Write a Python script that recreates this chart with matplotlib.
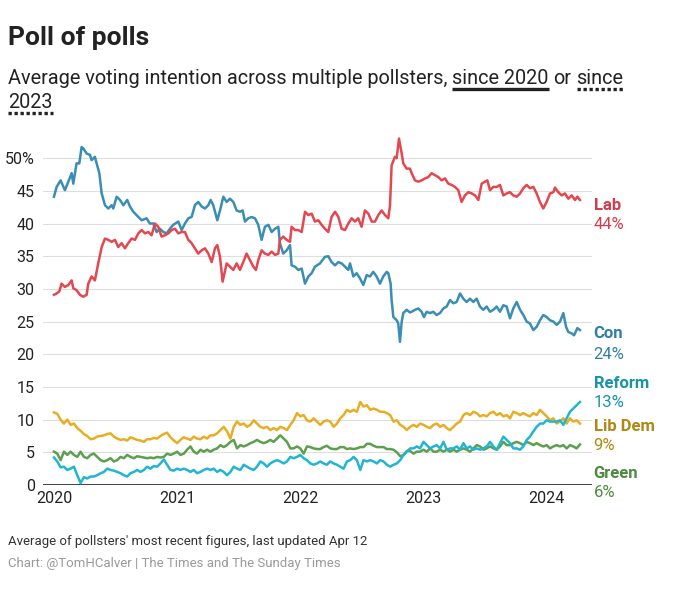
import matplotlib
matplotlib.use("Agg")
import matplotlib.pyplot as plt
from matplotlib.lines import Line2D
import numpy as np

plt.rcParams["font.family"] = ["Roboto", "DejaVu Sans"]

# ---- data (decimal years, % voting intention) ----
con_t = [2020.000, 2020.022, 2020.054, 2020.089, 2020.117, 2020.144, 2020.157, 2020.184, 2020.206, 2020.225,
         2020.238, 2020.266, 2020.293, 2020.306, 2020.333, 2020.347, 2020.369, 2020.388, 2020.415, 2020.442,
         2020.469, 2020.482, 2020.510, 2020.537, 2020.564, 2020.596, 2020.618, 2020.645, 2020.686, 2020.713,
         2020.753, 2020.780, 2020.808, 2020.835, 2020.862, 2020.889, 2020.916, 2020.943, 2020.970, 2021.011,
         2021.038, 2021.065, 2021.092, 2021.119, 2021.146, 2021.173, 2021.201, 2021.228, 2021.255, 2021.274,
         2021.295, 2021.328, 2021.350, 2021.377, 2021.404, 2021.431, 2021.458, 2021.485, 2021.512, 2021.534,
         2021.553, 2021.580, 2021.607, 2021.634, 2021.661, 2021.688, 2021.715, 2021.743, 2021.770, 2021.797,
         2021.824, 2021.837, 2021.864, 2021.892, 2021.919, 2021.932, 2021.959, 2021.986, 2022.014, 2022.041,
         2022.068, 2022.095, 2022.122, 2022.163, 2022.203, 2022.230, 2022.257, 2022.285, 2022.312, 2022.339,
         2022.366, 2022.393, 2022.407, 2022.434, 2022.461, 2022.488, 2022.515, 2022.542, 2022.569, 2022.596,
         2022.623, 2022.650, 2022.677, 2022.705, 2022.718, 2022.737, 2022.745, 2022.759, 2022.786, 2022.799,
         2022.813, 2022.827, 2022.840, 2022.867, 2022.894, 2022.908, 2022.935, 2022.962, 2022.989, 2023.008,
         2023.030, 2023.057, 2023.084, 2023.111, 2023.138, 2023.165, 2023.192, 2023.220, 2023.247, 2023.274,
         2023.301, 2023.328, 2023.355, 2023.382, 2023.409, 2023.436, 2023.463, 2023.490, 2023.518, 2023.545,
         2023.572, 2023.599, 2023.626, 2023.653, 2023.680, 2023.707, 2023.734, 2023.762, 2023.789, 2023.816,
         2023.843, 2023.870, 2023.897, 2023.924, 2023.951, 2023.978, 2024.005, 2024.033, 2024.060, 2024.087,
         2024.114, 2024.141, 2024.163, 2024.182, 2024.209, 2024.228, 2024.255, 2024.276]
con_v = [44.1, 45.6, 46.6, 45.1, 46.4, 47.7, 46.1, 49.2, 49.2, 51.7,
         51.5, 50.7, 50.5, 49.7, 50.2, 49.2, 47.7, 44.6, 42.8, 42.3,
         42.8, 42.3, 44.1, 43.6, 42.8, 43.6, 42.6, 41.8, 41.0, 40.5,
         40.8, 40.0, 40.0, 38.7, 39.2, 38.7, 38.5, 39.2, 39.8, 40.3,
         39.0, 40.0, 40.8, 41.0, 42.8, 43.3, 42.6, 42.3, 42.8, 43.6,
         42.8, 40.5, 42.0, 44.1, 43.3, 43.8, 43.3, 42.0, 41.8, 42.0,
         40.3, 40.8, 41.0, 40.8, 39.8, 37.5, 39.5, 39.8, 38.7, 39.2,
         39.5, 37.0, 35.4, 35.9, 36.7, 33.6, 33.4, 32.9, 33.1, 30.8,
         31.9, 32.4, 33.4, 33.9, 34.9, 35.0, 34.1, 33.6, 34.1, 33.9,
         33.4, 32.9, 33.9, 31.9, 32.4, 31.6, 30.6, 32.1, 31.9, 32.6,
         31.9, 30.8, 31.9, 32.6, 32.4, 30.8, 28.3, 25.7, 25.2, 24.7,
         21.9, 25.0, 26.3, 26.8, 26.4, 26.5, 26.8, 27.0, 26.5, 25.7,
         26.5, 26.3, 26.5, 26.0, 26.3, 27.0, 27.3, 28.3, 27.8, 28.0,
         29.3, 28.5, 28.0, 28.5, 28.0, 28.5, 27.3, 26.8, 27.3, 26.5,
         26.8, 27.3, 26.5, 27.5, 27.3, 25.5, 27.0, 28.0, 26.8, 26.0,
         25.0, 24.7, 23.7, 24.2, 25.2, 26.0, 25.7, 25.2, 25.0, 24.5,
         25.0, 26.3, 24.2, 23.4, 23.2, 22.9, 24.0, 23.7]

lab_t = [2020.000, 2020.022, 2020.043, 2020.062, 2020.089, 2020.117, 2020.144, 2020.157, 2020.184, 2020.211,
         2020.238, 2020.266, 2020.279, 2020.306, 2020.333, 2020.360, 2020.388, 2020.415, 2020.442, 2020.469,
         2020.496, 2020.523, 2020.550, 2020.577, 2020.604, 2020.631, 2020.659, 2020.686, 2020.713, 2020.740,
         2020.767, 2020.794, 2020.821, 2020.848, 2020.875, 2020.902, 2020.930, 2020.957, 2020.984, 2021.011,
         2021.038, 2021.065, 2021.092, 2021.119, 2021.146, 2021.173, 2021.201, 2021.228, 2021.255, 2021.282,
         2021.309, 2021.328, 2021.350, 2021.371, 2021.404, 2021.431, 2021.458, 2021.485, 2021.512, 2021.539,
         2021.566, 2021.593, 2021.621, 2021.642, 2021.661, 2021.688, 2021.715, 2021.743, 2021.770, 2021.797,
         2021.824, 2021.837, 2021.864, 2021.892, 2021.919, 2021.932, 2021.959, 2021.986, 2022.014, 2022.041,
         2022.068, 2022.095, 2022.122, 2022.149, 2022.176, 2022.203, 2022.230, 2022.257, 2022.285, 2022.312,
         2022.339, 2022.366, 2022.393, 2022.420, 2022.447, 2022.474, 2022.501, 2022.528, 2022.556, 2022.583,
         2022.610, 2022.637, 2022.664, 2022.691, 2022.718, 2022.732, 2022.745, 2022.772, 2022.786, 2022.805,
         2022.827, 2022.840, 2022.867, 2022.894, 2022.908, 2022.935, 2022.962, 2022.989, 2023.016, 2023.043,
         2023.070, 2023.098, 2023.125, 2023.152, 2023.179, 2023.206, 2023.233, 2023.260, 2023.287, 2023.314,
         2023.341, 2023.369, 2023.396, 2023.423, 2023.450, 2023.477, 2023.504, 2023.523, 2023.545, 2023.572,
         2023.599, 2023.626, 2023.653, 2023.680, 2023.707, 2023.734, 2023.762, 2023.789, 2023.816, 2023.843,
         2023.870, 2023.897, 2023.924, 2023.951, 2023.978, 2024.005, 2024.033, 2024.060, 2024.073, 2024.100,
         2024.127, 2024.154, 2024.182, 2024.209, 2024.236, 2024.255, 2024.276]
lab_v = [29.1, 29.3, 29.6, 30.8, 30.3, 30.6, 31.3, 30.1, 29.8, 29.1,
         28.8, 29.1, 30.8, 31.9, 31.3, 33.9, 36.4, 37.7, 37.5, 37.2,
         37.5, 36.4, 37.0, 36.2, 37.0, 37.7, 37.5, 38.5, 39.0, 38.5,
         38.7, 38.2, 40.0, 39.5, 38.0, 38.2, 38.5, 39.0, 39.2, 38.5,
         38.7, 38.7, 37.5, 37.0, 36.2, 35.4, 35.9, 36.2, 35.4, 34.1,
         36.2, 36.7, 34.9, 31.1, 33.9, 33.4, 32.9, 33.9, 32.9, 34.1,
         35.4, 34.4, 33.4, 32.9, 34.4, 35.9, 35.4, 35.2, 35.7, 35.2,
         35.4, 37.5, 38.0, 37.5, 37.2, 39.5, 39.0, 39.0, 38.7, 41.8,
         41.3, 41.5, 40.3, 40.5, 39.8, 39.2, 38.7, 41.0, 41.8, 41.0,
         39.2, 39.0, 40.0, 40.8, 40.3, 40.8, 39.5, 42.0, 41.5, 40.3,
         40.3, 41.3, 42.0, 41.3, 40.8, 42.8, 48.9, 50.2, 50.0, 53.0,
         50.7, 49.2, 48.4, 48.4, 47.7, 46.6, 46.4, 46.6, 46.9, 47.1,
         47.7, 47.4, 47.1, 46.6, 46.9, 46.1, 45.9, 45.6, 45.1, 43.3,
         44.3, 44.8, 44.6, 44.3, 43.6, 46.1, 46.4, 46.6, 45.1, 45.6,
         45.6, 45.9, 44.3, 44.6, 44.8, 44.3, 44.1, 44.6, 45.4, 45.9,
         45.4, 45.6, 44.6, 43.3, 42.3, 43.3, 44.6, 44.8, 45.5, 44.8,
         44.3, 44.6, 43.8, 44.3, 43.6, 44.1, 43.6]

# smaller parties share one sampling grid (roughly every 10 days, Jan 2020 - 12 Apr 2024)
small_t = np.linspace(2020.0, 2024.276, 159)
ld_v = [11.1, 10.9, 10.0, 9.4, 10.0, 9.2, 9.4, 8.7, 8.3, 7.8,
        7.5, 7.0, 7.1, 7.4, 7.5, 7.6, 7.8, 7.9, 7.4, 7.1,
        6.9, 7.0, 6.8, 7.3, 7.1, 6.9, 6.8, 6.6, 7.0, 7.0,
        7.2, 7.1, 7.5, 7.8, 8.0, 7.3, 6.8, 6.4, 6.9, 7.3,
        7.1, 6.9, 7.4, 7.1, 7.0, 7.4, 7.1, 7.6, 7.6, 7.9,
        8.4, 8.9, 8.2,
        7.1, 8.9, 9.7, 9.2, 9.4, 8.9, 9.2, 9.9, 9.4, 8.9,
        8.7, 8.9, 8.4, 8.7, 8.4, 8.9, 8.7, 8.4, 9.2, 9.9,
        11.0, 10.5, 10.7, 9.9, 9.7, 10.2, 9.7, 9.2, 9.7, 9.9,
        9.7, 8.9, 9.4, 10.2, 10.7, 11.5, 11.2, 11.5, 11.2, 12.7,
        12.0, 12.2, 11.5, 11.7, 11.5, 11.2, 11.2, 11.0, 10.7, 9.7,
        9.9, 9.2, 8.9, 8.4, 8.9,
        9.2, 8.9, 9.4, 9.2, 8.9, 8.7, 9.2, 9.4, 8.9, 9.2,
        8.7, 8.4, 8.9, 9.4, 9.7, 10.7, 11.0, 10.7, 11.2, 11.0,
        10.5, 10.7, 10.5, 11.0, 11.2, 10.7, 11.0, 10.5, 10.7, 10.2,
        11.2, 11.0, 10.7, 11.0, 10.7, 10.5, 11.0, 10.7, 11.5, 11.0,
        10.5, 9.9, 10.2, 9.4, 9.7, 10.2, 9.4, 10.2, 9.7, 9.9,
        9.4]
grn_v = [5.1, 4.8, 3.8, 5.1, 4.6, 5.1, 4.6, 4.3, 5.1, 4.3,
         4.1, 4.6, 4.8, 4.3, 3.8, 3.6, 3.8, 4.1, 3.6, 3.8,
         4.3, 4.1, 4.6, 4.3, 4.1, 4.4, 4.3, 4.2, 4.1, 4.2,
         4.1, 4.3, 4.2, 4.3, 4.8, 4.6, 4.8, 5.1, 4.6, 4.8,
         5.4, 5.9, 5.1, 4.8, 5.4, 5.1, 5.4, 5.1, 5.4, 5.6,
         6.1, 5.8, 6.1,
         6.6, 6.9, 5.6, 6.1, 5.9, 6.1, 6.4, 6.6, 6.9, 6.6,
         6.4, 6.6, 6.9, 6.6, 7.1, 7.6, 7.1, 6.6, 5.6, 5.6,
         5.9, 5.6, 4.8, 5.9, 5.8, 5.6, 5.5, 5.5, 5.8, 6.0,
         5.6, 5.5, 5.5, 5.8, 5.8, 5.5, 5.6, 5.5, 5.6, 5.8,
         5.8, 6.3, 6.3, 6.0, 5.8, 5.8, 5.8, 5.5, 5.5, 5.4,
         5.0, 4.4, 4.6, 5.2, 5.2,
         4.8, 5.1, 5.1, 5.4, 5.1, 5.6, 5.1, 5.1, 5.4, 5.1,
         5.4, 5.1, 5.4, 5.1, 5.4, 5.6, 5.4, 5.1, 5.6, 6.1,
         5.9, 5.4, 5.6, 5.9, 5.6, 5.4, 5.9, 6.6, 6.1, 6.1,
         6.4, 6.6, 6.4, 6.1, 6.6, 6.4, 6.1, 6.4, 6.1, 5.9,
         6.1, 5.6, 5.9, 6.1, 5.9, 6.1, 5.6, 6.1, 5.9, 5.6,
         6.2]
ref_v = [4.2, 3.6, 2.7, 2.8, 2.3, 2.5, 2.8, 1.5, 0.3, 1.2,
         1.0, 1.3, 1.3, 1.5, 1.8, 2.0, 2.5, 2.3, 2.2, 2.0,
         1.8, 1.5, 1.3, 1.8, 2.0, 2.3, 2.0, 2.3, 2.8, 2.5,
         2.9, 2.8, 3.3, 3.9, 3.1, 2.3, 2.2, 2.5, 2.3, 2.5,
         2.3, 2.0, 2.3, 1.8, 2.0, 2.3, 2.5, 2.3, 2.5, 2.0,
         2.3, 2.0, 1.5,
         2.0, 2.8, 2.5, 2.3, 3.1, 2.8, 2.5, 2.3, 2.8, 3.6,
         3.3, 2.8, 3.3, 3.6, 3.8, 3.6, 3.3, 3.6, 4.3, 4.1,
         4.3, 4.6, 4.1, 3.8, 3.3, 3.1, 3.3, 3.6, 3.3, 3.1,
         3.6, 3.3, 3.1, 2.8, 2.5, 3.6, 3.8, 4.3, 3.8, 2.3,
         3.8, 3.6, 3.8, 3.6, 3.3, 3.8, 3.6, 3.1, 2.8, 3.1,
         3.3, 3.8, 4.6, 5.1, 5.6,
         5.6, 5.9, 5.6, 6.6, 6.1, 5.6, 5.9, 6.1, 5.6, 6.6,
         5.4, 5.6, 5.6, 5.9, 5.4, 6.4, 5.6, 5.9, 5.4, 5.6,
         5.4, 5.6, 5.9, 6.6, 5.9, 5.4, 6.4, 7.4, 6.9, 6.4,
         5.6, 5.6, 5.4, 5.9, 6.9, 7.4, 8.2, 8.9, 9.4, 9.4,
         9.9, 9.7, 9.7, 9.7, 9.9, 9.2, 10.2, 11.2, 11.7, 12.2,
         12.7]

years = [2020, 2021, 2022, 2023, 2024]
yticks = [0, 5, 10, 15, 20, 25, 30, 35, 40, 45, 50]

# party: (x, y, line colour, label colour, name label y, value label y)
parties = [
    ("Con", con_t, con_v, "#3a8db3", "#2f7fa3", 23.1, 20.0),
    ("Lab", lab_t, lab_v, "#e4474f", "#d33d4a", 42.8, 39.8),
    ("Green", small_t, grn_v, "#5c9f4e", "#4c8a3f", 1.7, -1.2),
    ("Lib Dem", small_t, ld_v, "#e8ad24", "#b08712", 8.9, 6.0),
    ("Reform", small_t, ref_v, "#22b5d2", "#1893aa", 15.6, 12.6),
]

W, H = 680, 605
fig = plt.figure(figsize=(W / 100, H / 100), dpi=100)
ax = fig.add_axes([43 / W, 120 / H, 549 / W, 353 / H])

for name, t, v, lc, tc, y_name, y_val in parties:
    ax.plot(t, v, color=lc, lw=1.8, solid_joinstyle="round", zorder=3)
    ax.text(1.003, y_name, name, transform=ax.get_yaxis_transform(), color=tc,
            fontsize=12, fontweight="bold", va="center", ha="left", clip_on=False)
    ax.text(1.003, y_val, f"{round(v[-1])}%", transform=ax.get_yaxis_transform(), color=tc,
            fontsize=12, va="center", ha="left", clip_on=False)

ax.set_xlim(2019.911, 2024.374)
ax.set_ylim(0, 54)
ax.set_xticks(years)
ax.set_xticklabels([str(y) for y in years])
ax.set_yticks(yticks)
ax.set_yticklabels([str(y) if y < 50 else f"{y}%" for y in yticks])
ax.tick_params(length=0, labelsize=11.5, labelcolor="#222222")
ax.tick_params(axis="y", pad=6)
ax.tick_params(axis="x", pad=4)
ax.yaxis.grid(True, color="#dedede", lw=0.8)
ax.set_axisbelow(True)
for s in ax.spines.values():
    s.set_visible(False)
ax.axhline(0, color="#333333", lw=1.3, zorder=2)

# ---- title, subtitle with underlined keys ----
fig.text(8 / W, 1 - 38 / H, "Poll of polls", fontsize=19, fontweight="bold",
         color="#222222", va="center")

r = fig.canvas.get_renderer()
sub_kw = dict(fontsize=14.3, color="#222222", va="baseline")


def width_px(s):
    t = fig.text(0, 0, s, **sub_kw)
    w = t.get_window_extent(r).width
    t.remove()
    return w


sp = width_px("a a") - width_px("aa")
y1 = 1 - 84 / H
y2 = 1 - 108 / H
x = 8.0
boxes = []
for piece in ["Average voting intention across multiple pollsters,", "since 2020", "or", "since"]:
    t = fig.text(x / W, y1, piece, **sub_kw)
    bb = t.get_window_extent(r)
    boxes.append(bb)
    x = bb.x1 + sp
t = fig.text(8 / W, y2, "2023", **sub_kw)
bb2023 = t.get_window_extent(r)

# solid underline under "since 2020"
b = boxes[1]
fig.add_artist(Line2D([b.x0 / W, b.x1 / W], [1 - 89 / H] * 2, transform=fig.transFigure,
                      color="#222222", lw=2.4, solid_capstyle="butt"))
# dotted underline under "since 2023"
for b, yy in [(boxes[3], 89), (bb2023, 113)]:
    fig.add_artist(Line2D([b.x0 / W, b.x1 / W], [1 - yy / H] * 2, transform=fig.transFigure,
                          color="#222222", lw=2.4, linestyle=(0, (1, 0.8)), dash_capstyle="butt"))

# ---- footer ----
fig.text(8 / W, 1 - 541 / H, "Average of pollsters' most recent figures, last updated Apr 12",
         fontsize=9.5, color="#333333", va="center")
fig.text(8 / W, 1 - 563 / H, "Chart: @TomHCalver | The Times and The Sunday Times",
         fontsize=9.5, color="#9a9a9a", va="center")

fig.savefig("out.png", dpi=100, facecolor="white")
